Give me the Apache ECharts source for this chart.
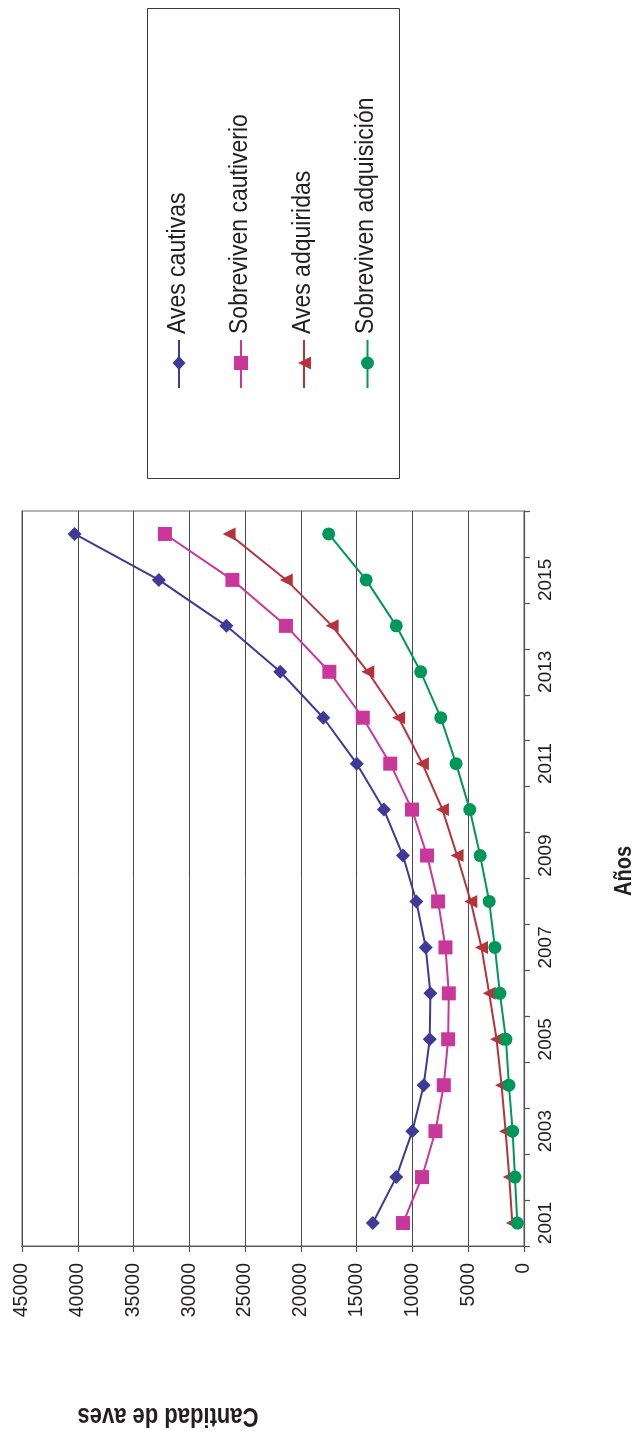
<!DOCTYPE html>
<html>
<head>
<meta charset="utf-8">
<script src="https://cdn.jsdelivr.net/npm/echarts@6/dist/echarts.min.js"></script>
<style>
  html, body { margin: 0; padding: 0; background: #fff; }
  #chart { width: 638px; height: 1431px; }
</style>
</head>
<body>
<div id="chart"></div>
<script>
// ---- data ----
const years = ['2001','2002','2003','2004','2005','2006','2007','2008','2009','2010','2011','2012','2013','2014','2015','2016'];
const seriesNames = ['Aves cautivas', 'Sobreviven cautiverio', 'Aves adquiridas', 'Sobreviven adquisición'];
const avesCautivas = [13550, 11450, 10010, 8990, 8450, 8390, 8810, 9650, 10850, 12560, 14990, 17990, 21850, 26680, 32730, 40290];
const sobrevivenCautiverio = [10850, 9140, 7940, 7190, 6800, 6740, 7040, 7700, 8690, 10040, 11990, 14450, 17450, 21340, 26140, 32190];
const avesAdquiridas = [1050, 1320, 1650, 2010, 2460, 3120, 3810, 4770, 6000, 7310, 9110, 11240, 14000, 17200, 21310, 26440];
const sobrevivenAdquisicion = [600, 810, 1020, 1350, 1620, 2160, 2610, 3120, 3930, 4860, 6090, 7460, 9260, 11450, 14150, 17510];
const xTitle = 'Años';
const yTitle = 'Cantidad de aves';

const colors = ['#3F3A97', '#C9379A', '#B7333A', '#00985A'];
const FONT = "'Liberation Sans', Arial, Helvetica, sans-serif";
const TXT = '#231F20';

const chart = echarts.init(document.getElementById('chart'), null, { renderer: 'canvas' });

function mkSeries(i, data, symbol, size, rotate) {
  return {
    name: seriesNames[i], type: 'line', data: data,
    symbol: symbol, symbolSize: size, symbolRotate: rotate || 0,
    showSymbol: true,
    lineStyle: { color: colors[i], width: 2 },
    itemStyle: { color: colors[i] },
    emphasis: { disabled: true },
    animation: false,
    z: 3 + i
  };
}

// legend graphics
const legendX = [179, 241, 304, 367.5];
const legendEls = [{
  type: 'rect', shape: { x: 147.5, y: 8.5, width: 252, height: 470 },
  style: { fill: '#fff', stroke: '#3a3a3a', lineWidth: 1 }, z: 1
}];
legendX.forEach(function (xc, i) {
  legendEls.push({
    type: 'line', shape: { x1: xc, y1: 340, x2: xc, y2: 388 },
    style: { stroke: colors[i], lineWidth: 2 }, z: 2
  });
  let sym;
  if (i === 0) sym = { type: 'polygon', shape: { points: [[xc, 356], [xc + 6.5, 363], [xc, 370], [xc - 6.5, 363]] } };
  else if (i === 1) sym = { type: 'rect', shape: { x: xc - 7, y: 356, width: 14, height: 14 } };
  else if (i === 2) sym = { type: 'polygon', shape: { points: [[xc - 6, 363], [xc + 7, 356.5], [xc + 7, 369.5]] } };
  else sym = { type: 'circle', shape: { cx: xc, cy: 363, r: 6.5 } };
  sym.style = { fill: colors[i] };
  sym.z = 3;
  legendEls.push(sym);
  legendEls.push({
    type: 'text', x: xc - 1.5, y: 334, rotation: Math.PI / 2, scaleY: 1.12, z: 3,
    style: {
      text: seriesNames[i], fill: TXT, font: '23px ' + FONT,
      align: 'left', verticalAlign: 'middle', textAlign: 'left', textVerticalAlign: 'middle'
    }
  });
});

const option = {
  backgroundColor: '#ffffff',
  animation: false,
  grid: {
    left: 22, right: 114, top: 511, bottom: 185,
    show: true, borderColor: '#9a9a9a', borderWidth: 1.5,
    containLabel: false, outerBoundsMode: 'none'
  },
  xAxis: {
    type: 'value', position: 'bottom', inverse: true,
    min: 0, max: 45000, interval: 5000,
    axisLine: { show: true, lineStyle: { color: '#555', width: 1.2 } },
    axisTick: { show: true, inside: false, length: 6, lineStyle: { color: '#555', width: 1.2 } },
    axisLabel: { rotate: 90, margin: 17, color: TXT, fontSize: 19.5, fontFamily: FONT,
      formatter: function (v) { return String(v); } },
    splitLine: { show: true, lineStyle: { color: '#4a4a4a', width: 1 } }
  },
  yAxis: {
    type: 'category', position: 'right', data: years, boundaryGap: true,
    axisLine: { show: true, lineStyle: { color: '#555', width: 1.2 } },
    axisTick: { show: true, inside: false, interval: 0, alignWithLabel: false, length: 6, lineStyle: { color: '#555', width: 1.2 } },
    axisLabel: { rotate: 90, interval: 1, margin: 12, color: TXT, fontSize: 19, fontFamily: FONT },
    splitLine: { show: false }
  },
  graphic: legendEls.concat([
    {
      type: 'text', x: 625, y: 871, rotation: Math.PI / 2, scaleY: 1.15, z: 5,
      style: { text: xTitle, fill: TXT, font: 'bold 20px ' + FONT,
        align: 'center', verticalAlign: 'middle', textAlign: 'center', textVerticalAlign: 'middle' }
    },
    {
      type: 'text', x: 168, y: 1416, rotation: Math.PI, scaleY: 1.25, z: 5,
      style: { text: yTitle, fill: TXT, font: 'bold 22px ' + FONT,
        align: 'center', verticalAlign: 'middle', textAlign: 'center', textVerticalAlign: 'middle' }
    }
  ]),
  series: [
    mkSeries(0, avesCautivas, 'diamond', 14),
    mkSeries(1, sobrevivenCautiverio, 'rect', 14),
    mkSeries(2, avesAdquiridas, 'triangle', 13, 90),
    mkSeries(3, sobrevivenAdquisicion, 'circle', 13)
  ]
};
chart.setOption(option);
</script>
</body>
</html>
